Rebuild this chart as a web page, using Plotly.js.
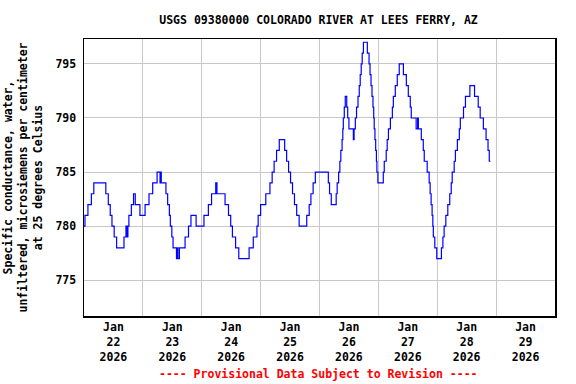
<!DOCTYPE html>
<html>
<head>
<meta charset="utf-8">
<script src="https://cdn.plot.ly/plotly-3.0.1.min.js"></script>
<style>html,body{margin:0;padding:0;background:#fff;}#chart{width:576px;height:384px;}</style>
</head>
<body>
<div id="chart"></div>
<script>
// Series start (hours are counted from this instant)
const startDate = "2026-01-22T00:00:00Z";
// Hours since start at which the stepped value changes
const stepHours = [
  0.0, 0.4, 1.6, 3.0, 4.0, 8.9, 9.9, 10.7, 11.4, 12.3, 13.3, 16.3, 17.1, 17.6, 17.9, 18.3, 19.3, 20.2, 20.9, 22.8,
  24.9, 26.5, 28.0, 29.8, 31.0, 31.3, 31.5, 33.4, 34.1, 34.8, 35.2, 35.8, 36.3, 37.7, 37.9, 38.3, 38.9, 41.2, 42.6, 43.6,
  45.7, 48.9, 50.7, 52.0, 53.7, 54.2, 57.5, 58.9, 59.8, 60.5, 61.8, 63.1, 67.3, 69.0, 70.5, 71.0, 72.0, 74.1, 75.8, 76.7,
  77.5, 78.5, 79.6, 81.8, 82.6, 83.4, 84.2, 85.0, 85.8, 86.7, 87.7, 90.8, 91.8, 92.5, 93.4, 94.3, 99.6, 100.1, 100.8, 102.8,
  103.2, 103.8, 104.3, 104.7, 105.2, 105.5, 105.7, 106.1, 106.5, 107.1, 107.5, 108.0, 109.8, 110.1, 110.6, 111.1, 111.7, 112.2, 112.6, 113.0,
  113.4, 113.9, 115.5, 116.2, 116.6, 117.0, 117.4, 117.8, 118.1, 118.3, 118.6, 118.9, 119.2, 119.4, 119.8, 122.0, 122.4, 123.2, 123.6, 124.1,
  124.9, 125.7, 126.1, 126.9, 127.7, 128.5, 130.2, 131.4, 132.2, 133.0, 133.4, 135.4, 136.0, 136.3, 137.5, 138.3, 138.7, 139.9, 140.7, 141.1,
  141.5, 141.9, 142.2, 142.4, 143.0, 143.8, 145.7, 146.3, 146.8, 147.5, 148.3, 149.1, 149.7, 150.1, 150.9, 151.4, 152.2, 153.0, 153.4, 154.7,
  155.5, 157.3, 159.2, 160.7, 161.5, 162.8, 163.9, 164.7, 165.2, 165.7
];
// Specific conductance (microsiemens/cm at 25 C) from each change onward
const conductance = [
  780, 781, 782, 783, 784, 783, 782, 781, 780, 779, 778, 779, 780, 779, 780, 781, 782, 783, 782, 781,
  782, 783, 784, 785, 784, 785, 784, 783, 782, 781, 780, 779, 778, 777, 778, 777, 778, 779, 780, 781,
  780, 781, 782, 783, 784, 783, 782, 781, 780, 779, 778, 777, 778, 779, 780, 781, 782, 783, 784, 785,
  786, 787, 788, 787, 786, 785, 784, 783, 782, 781, 780, 781, 782, 783, 784, 785, 784, 783, 782, 783,
  784, 785, 786, 787, 788, 789, 790, 791, 792, 791, 790, 789, 788, 789, 790, 791, 792, 793, 794, 795,
  796, 797, 796, 795, 794, 793, 792, 791, 790, 789, 788, 787, 786, 785, 784, 785, 786, 787, 788, 789,
  790, 791, 792, 793, 794, 795, 794, 793, 792, 791, 790, 789, 790, 789, 788, 787, 786, 785, 784, 783,
  782, 781, 780, 779, 778, 777, 778, 779, 780, 781, 782, 783, 784, 785, 786, 787, 788, 789, 790, 791,
  792, 793, 792, 791, 790, 789, 788, 787, 786, 786
];
const yTickVals = [775, 780, 785, 790, 795];
const chartTitle = "USGS 09380000 COLORADO RIVER AT LEES FERRY, AZ";
const yTitle = "Specific conductance, water,<br>unfiltered, microsiemens per centimeter<br>at 25 degrees Celsius";
const footer = "---- Provisional Data Subject to Revision ----";

const t0 = Date.parse(startDate);
const xs = stepHours.map(h => new Date(t0 + h * 3600000).toISOString().replace('T', ' ').slice(0, 19));

const mono = {family: "DejaVu Sans Mono, Liberation Mono, monospace", size: 11.5, color: "#000", weight: "bold"};

Plotly.newPlot("chart", [{
  x: xs, y: conductance, type: "scatter", mode: "lines",
  line: {color: "#0000FF", width: 1.2, shape: "hv"}, hoverinfo: "skip"
}], {
  width: 576, height: 384,
  margin: {l: 84, r: 21, t: 39, b: 68},
  paper_bgcolor: "#fff", plot_bgcolor: "#fff",
  showlegend: false,
  title: {text: chartTitle, font: mono, x: 0.553, xanchor: "center", y: 0.948, yanchor: "middle"},
  xaxis: {
    type: "date",
    range: ["2026-01-22 00:00:00", "2026-01-30 00:00:00"],
    tick0: "2026-01-22 00:00:00", dtick: 86400000,
    ticklabelmode: "period",
    tickformat: "%b<br>%d<br>%Y",
    tickfont: mono,
    showgrid: true, gridcolor: "#c8c8c8", gridwidth: 1,
    showline: true, linecolor: "#000", linewidth: 1.5, mirror: true,
    ticks: "", zeroline: false
  },
  yaxis: {
    range: [771.7, 797.3],
    tickvals: yTickVals,
    tickfont: mono,
    ticklabelstandoff: 4,
    showgrid: true, gridcolor: "#c8c8c8", gridwidth: 1,
    showline: true, linecolor: "#000", linewidth: 1.5, mirror: true,
    ticks: "", zeroline: false,
    title: {text: yTitle, font: mono, standoff: 10}
  },
  annotations: [{
    text: footer, xref: "paper", yref: "paper", x: 0.497, y: -0.21,
    xanchor: "center", yanchor: "middle", showarrow: false,
    font: {family: mono.family, size: 11.5, color: "#ff0000", weight: "bold"}
  }]
}, {staticPlot: true, displayModeBar: false});
</script>
</body>
</html>
